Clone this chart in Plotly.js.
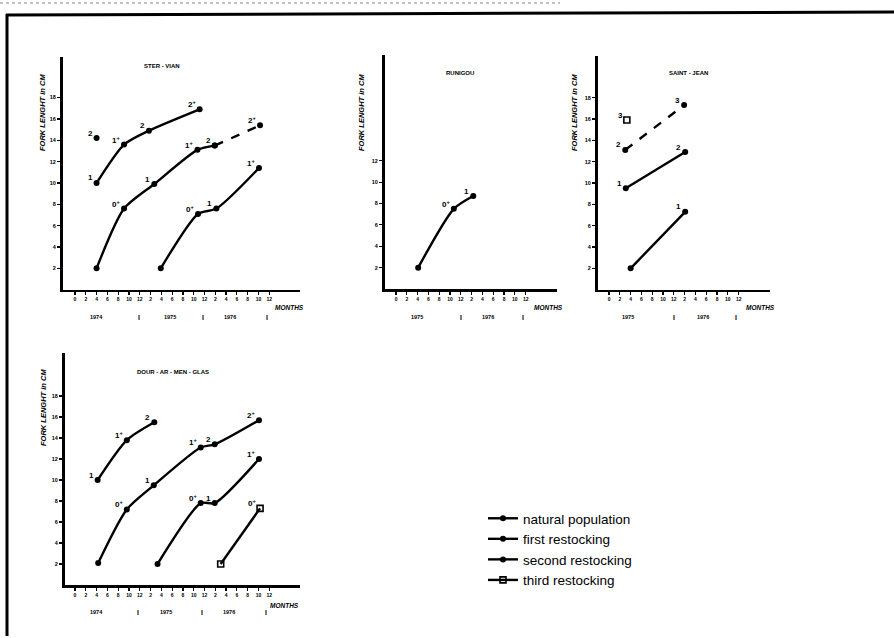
<!DOCTYPE html>
<html><head><meta charset="utf-8">
<script src="https://cdn.plot.ly/plotly-3.0.1.min.js"></script>
<style>html,body{margin:0;padding:0;background:#fff}#chart{width:894px;height:638px}</style>
</head><body><div id="chart"></div>
<script>
// ---------- tick labels ----------
const monthTicks36 = [0,2,4,6,8,10,12,14,16,18,20,22,24,26,28,30,32,34,36];
const monthText36  = ["0","2","4","6","8","10","12","2","4","6","8","10","12","2","4","6","8","10","12"];
const monthTicks24 = [0,2,4,6,8,10,12,14,16,18,20,22,24];
const monthText24  = ["0","2","4","6","8","10","12","2","4","6","8","10","12"];
const lenTicks18 = [2,4,6,8,10,12,14,16,18];
const lenTicks12 = [2,4,6,8,10,12];

// ---------- STER - VIAN ----------
const sterNatM = [4.0, 9.1, 13.7, 23.1];
const sterNatL = [10.0, 13.6, 14.9, 16.9];
const sterNatLab = ["1","1+","2","2+"];
const sterIsoM = [4.0];
const sterIsoL = [14.2];
const sterIsoLab = ["2"];
const sterFirstM = [4.0, 9.1, 14.7, 22.7, 25.9];
const sterFirstL = [2.0, 7.6, 9.9, 13.1, 13.5];
const sterFirstLab = ["", "0+", "1", "1+", "2"];
const sterFirstDashM = [25.9, 34.3];
const sterFirstDashL = [13.5, 15.4];
const sterFirstDashLab = ["", "2+"];
const sterSecondM = [15.9, 22.8, 26.2, 34.1];
const sterSecondL = [2.0, 7.1, 7.6, 11.4];
const sterSecondLab = ["", "0+", "1", "1+"];
const sterYears = ["1974","I","1975","I","1976","I"];
const sterYearPos = [3.9, 11.9, 17.6, 23.7, 28.7, 35.6];

// ---------- RUNIGOU ----------
const runM = [4.1, 10.7, 14.3];
const runL = [2.0, 7.5, 8.7];
const runLab = ["", "0+", "1"];
const runYears = ["1975","I","1976","I"];
const runYearPos = [3.9, 12.0, 17.0, 23.5];

// ---------- SAINT - JEAN ----------
const sjDashM = [3.0, 13.9];
const sjDashL = [13.1, 17.3];
const sjDashLab = ["2", "3"];
const sjIsoM = [3.3];
const sjIsoL = [15.9];
const sjIsoLab = ["3"];
const sjUpperM = [3.1, 14.1];
const sjUpperL = [9.5, 12.9];
const sjUpperLab = ["1", "2"];
const sjLowerM = [4.0, 14.1];
const sjLowerL = [2.0, 7.3];
const sjLowerLab = ["", "1"];
const sjYears = ["1975","I","1976","I"];
const sjYearPos = [3.5, 12.0, 17.4, 23.5];

// ---------- DOUR - AR - MEN - GLAS ----------
const dTopM = [4.2, 9.6, 14.7];
const dTopL = [10.0, 13.8, 15.5];
const dTopLab = ["1", "1+", "2"];
const dMidM = [4.3, 9.6, 14.6, 23.3, 25.9, 34.1];
const dMidL = [2.1, 7.2, 9.5, 13.1, 13.4, 15.7];
const dMidLab = ["", "0+", "1", "1+", "2", "2+"];
const dLowM = [15.3, 23.3, 25.9, 34.1];
const dLowL = [2.0, 7.8, 7.8, 12.0];
const dLowLab = ["", "0+", "1", "1+"];
const dThirdM = [27.0, 34.3];
const dThirdL = [2.0, 7.3];
const dThirdLab = ["", "0+"];
const dYears = ["1974","I","1975","I","1976","I"];
const dYearPos = [3.9, 11.7, 16.9, 23.5, 28.5, 35.4];

const legendNames = ["natural population", "first restocking", "second restocking", "third restocking"];

// ---------- helpers ----------
const W = 894, H = 638;
const px = x => x / W;
const py = y => 1 - y / H;
const FONT = "Liberation Sans, Arial, sans-serif";
const traces = [];
const annotations = [];

function addSeries(ax, xs, ys, labs, opts) {
  opts = opts || {};
  const hollow = opts.hollow;
  const t = {
    type: "scatter", mode: opts.mode || "lines+markers",
    x: xs, y: ys, xaxis: "x" + (ax === 1 ? "" : ax), yaxis: "y" + (ax === 1 ? "" : ax),
    line: {color: "#000", width: 2.4, shape: "spline", smoothing: 0.7, dash: opts.dash || "solid"},
    marker: hollow ? {symbol: "square-open", size: 6, color: "#000", line: {width: 1.6, color: "#000"}}
                   : {symbol: "circle", size: 6, color: "#000"},
    showlegend: !!opts.name, name: opts.name || "", hoverinfo: "skip"
  };
  if (opts.rank) t.legendrank = opts.rank;
  traces.push(t);
  const sfx = ax === 1 ? "" : ax;
  labs.forEach((lab, i) => {
    if (!lab) return;
    annotations.push({
      xref: "x" + sfx, yref: "y" + sfx, x: xs[i], y: ys[i],
      text: lab.replace("+", "<sup>+</sup>"), showarrow: false,
      xanchor: "right", yanchor: "middle", xshift: -2, yshift: 5,
      font: {family: FONT, size: 8, color: "#000", weight: "bold"}
    });
  });
}

function addYears(ax, texts, pos, ypx) {
  const sfx = ax === 1 ? "" : ax;
  texts.forEach((t, i) => {
    annotations.push({
      xref: "x" + sfx, yref: "paper", x: pos[i], y: py(ypx),
      text: t, showarrow: false, xanchor: "center", yanchor: "middle",
      font: {family: FONT, size: t === "I" ? 7 : 5.5, color: "#000", weight: "bold"}
    });
  });
}

function paperText(x, y, text, size, opts) {
  opts = opts || {};
  annotations.push({
    xref: "paper", yref: "paper", x: px(x), y: py(y), text: text, showarrow: false,
    xanchor: "center", yanchor: "middle", textangle: opts.angle || 0,
    font: {family: FONT, size: size, color: "#000", weight: "bold", style: opts.italic ? "italic" : "normal"}
  });
}

// ---------- series ----------
addSeries(1, sterNatM, sterNatL, sterNatLab, {name: legendNames[0], rank: 1});
addSeries(1, sterIsoM, sterIsoL, sterIsoLab, {mode: "markers"});
addSeries(1, sterFirstM, sterFirstL, sterFirstLab, {name: legendNames[1], rank: 2});
addSeries(1, sterFirstDashM, sterFirstDashL, sterFirstDashLab, {dash: "dash"});
addSeries(1, sterSecondM, sterSecondL, sterSecondLab, {name: legendNames[2], rank: 3});

addSeries(2, runM, runL, runLab);

addSeries(3, sjDashM, sjDashL, sjDashLab, {dash: "dash"});
addSeries(3, sjIsoM, sjIsoL, sjIsoLab, {mode: "markers", hollow: true});
addSeries(3, sjUpperM, sjUpperL, sjUpperLab);
addSeries(3, sjLowerM, sjLowerL, sjLowerLab);

addSeries(4, dTopM, dTopL, dTopLab);
addSeries(4, dMidM, dMidL, dMidLab);
addSeries(4, dLowM, dLowL, dLowLab);
addSeries(4, dThirdM, dThirdL, dThirdLab, {hollow: true, name: legendNames[3], rank: 4});

// ---------- axes ----------
function xAxis(domain, range, vals, text, anchor) {
  return {domain: domain, range: range, anchor: anchor, showgrid: false, zeroline: false,
    showline: true, linecolor: "#000", linewidth: 2.6, ticks: "outside", ticklen: 3, tickwidth: 1.2,
    tickcolor: "#000", tickvals: vals, ticktext: text,
    tickfont: {family: FONT, size: 5, color: "#000", weight: "bold"}, fixedrange: true};
}
function yAxis(domain, range, vals, anchor) {
  return {domain: domain, range: range, anchor: anchor, showgrid: false, zeroline: false,
    showline: true, linecolor: "#000", linewidth: 3, ticks: "outside", ticklen: 3, tickwidth: 1.2,
    tickcolor: "#000", tickvals: vals, ticktext: vals.map(String),
    tickfont: {family: FONT, size: 5.5, color: "#000", weight: "bold"}, fixedrange: true};
}

const layout = {
  width: W, height: H, margin: {l: 0, r: 0, t: 0, b: 0},
  paper_bgcolor: "#fff", plot_bgcolor: "rgba(0,0,0,0)",
  xaxis:  xAxis([px(63), px(300)], [-2.22, 41.7], monthTicks36, monthText36, "y"),
  yaxis:  yAxis([py(289.7), py(57)], [0, 21.8], lenTicks18, "x"),
  xaxis2: xAxis([px(385), px(557)], [-2.04, 29.8], monthTicks24, monthText24, "y2"),
  yaxis2: yAxis([py(289), py(55)], [0, 21.9], lenTicks12, "x2"),
  xaxis3: xAxis([px(598), px(770)], [-2.04, 29.8], monthTicks24, monthText24, "y3"),
  yaxis3: yAxis([py(289.7), py(56)], [0, 21.9], lenTicks18, "x3"),
  xaxis4: xAxis([px(65), px(300)], [-1.85, 41.7], monthTicks36, monthText36, "y4"),
  yaxis4: yAxis([py(585), py(353)], [0, 22.1], lenTicks18, "x4"),
  showlegend: true,
  legend: {x: px(483), y: py(503), xanchor: "left", yanchor: "top", bgcolor: "rgba(0,0,0,0)",
    font: {family: "Liberation Sans, sans-serif", size: 13.5, color: "#000"},
    traceorder: "normal", itemwidth: 30, tracegroupgap: 0},
  annotations: annotations,
  shapes: [
    {type: "line", xref: "paper", yref: "paper", x0: px(6), y0: py(15), x1: 1, y1: py(12), line: {color: "#000", width: 3}},
    {type: "line", xref: "paper", yref: "paper", x0: px(7), y0: py(14), x1: px(7), y1: py(636), line: {color: "#000", width: 3}},
    {type: "line", xref: "paper", yref: "paper", x0: px(0), y0: py(3), x1: px(560), y1: py(3), line: {color: "#888", width: 1, dash: "dot"}}
  ]
};

// titles, axis titles, MONTHS
paperText(162, 66, "STER - VIAN", 6);
paperText(460, 73, "RUNIGOU", 6);
paperText(688, 73, "SAINT - JEAN", 6);
paperText(173, 372, "DOUR - AR - MEN - GLAS", 6);
paperText(43, 113, "FORK LENGHT in CM", 7.5, {angle: -90, italic: true});
paperText(362, 113, "FORK LENGHT in CM", 7.5, {angle: -90, italic: true});
paperText(575, 113, "FORK LENGHT in CM", 7.5, {angle: -90, italic: true});
paperText(43, 408, "FORK LENGHT in CM", 7.5, {angle: -90, italic: true});
paperText(289, 307, "MONTHS", 6.5, {italic: true});
paperText(548, 307, "MONTHS", 6.5, {italic: true});
paperText(760, 307, "MONTHS", 6.5, {italic: true});
paperText(284, 605, "MONTHS", 6.5, {italic: true});

addYears(1, sterYears, sterYearPos, 317);
addYears(2, runYears, runYearPos, 317);
addYears(3, sjYears, sjYearPos, 317);
addYears(4, dYears, dYearPos, 612);

Plotly.newPlot("chart", traces, layout, {staticPlot: true, displayModeBar: false});
</script></body></html>
